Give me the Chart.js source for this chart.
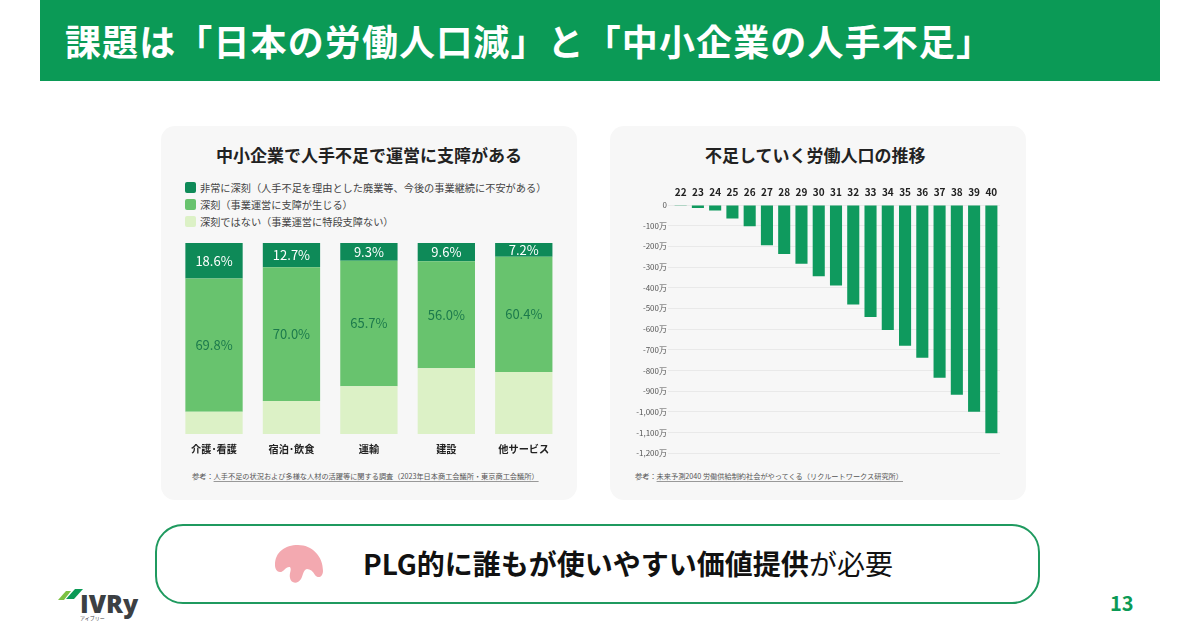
<!DOCTYPE html>
<html lang="ja">
<head>
<meta charset="utf-8">
<title>課題</title>
<script src="https://cdn.jsdelivr.net/npm/chart.js@4"></script>
<style>
    * { box-sizing: border-box; }
    html, body { margin: 0; padding: 0; background: #fff; }
    body { position: relative; width: 1200px; height: 630px; overflow: hidden; font-family: "Noto Sans CJK JP", "Noto Sans", sans-serif; color: #222; }
    .abs { position: absolute; white-space: nowrap; }
    #cabecera { left: 40px; top: 0; width: 1120px; height: 81px; background: #0b9a56; }
    #titulo { left: 65px; top: 14px; font-size: 36px; line-height: 52px; font-weight: 700; color: #fff; letter-spacing: 1.12px; }
    .tarjeta { top: 126px; width: 416px; height: 374px; background: #f7f7f7; border-radius: 14px; }
    .subtitulo { top: 143px; font-size: 17px; line-height: 24px; font-weight: 700; color: #222; }
    #leyenda { left: 185px; top: 179px; font-size: 10.2px; line-height: 17px; color: #444; }
    #leyenda div { display: flex; align-items: center; }
    #leyenda i { display: block; width: 11px; height: 11px; border-radius: 2px; margin-right: 4px; }
    .nota { top: 469px; font-size: 7.2px; line-height: 14px; color: #555; }
    .nota u { text-decoration-color: #999; text-underline-offset: 2px; }
    canvas { position: absolute; }
    #caja { left: 155px; top: 524px; width: 885px; height: 80px; background: #fff; border: 2.5px solid #1f9a5f; border-radius: 28px; }
    #mensaje { left: 363px; top: 544px; font-size: 28px; line-height: 38px; font-weight: 700; color: #111; }
    #mensaje span { font-weight: 400; }
    #pagina { left: 1110px; top: 590px; font-size: 20px; line-height: 26px; font-weight: 700; color: #0b9a56; }
    #marca { left: 80px; top: 587px; font-family: "Open Sans", sans-serif; font-size: 25px; line-height: 32px; font-weight: 800; color: #3c4043; }
    #marcaKana { left: 80px; top: 614px; font-size: 5px; line-height: 7px; color: #444; }
</style>
</head>
<body>
<div class="abs" id="cabecera"></div>
<div class="abs" id="titulo">課題は「日本の労働人口減」と「中小企業の人手不足」</div>

<div class="abs tarjeta" style="left:161px"></div>
<div class="abs tarjeta" style="left:610px"></div>

<div class="abs subtitulo" style="left:216px">中小企業で人手不足で運営に支障がある</div>
<div class="abs subtitulo" style="left:705px">不足していく労働人口の推移</div>

<div class="abs" id="leyenda"></div>
<canvas id="graficoApilado" style="left:161px;top:236px" width="416" height="226"></canvas>
<canvas id="graficoNegativo" style="left:610px;top:180px" width="416" height="282"></canvas>

<div class="abs nota" style="left:192px">参考：<u>人手不足の状況および多様な人材の活躍等に関する調査（2023年日本商工会議所・東京商工会議所）</u></div>
<div class="abs nota" style="left:635px">参考：<u>未来予測2040 労働供給制約社会がやってくる（リクルートワークス研究所）</u></div>

<div class="abs" id="caja"></div>
<svg class="abs" style="left:270px;top:540px" width="60" height="50" viewBox="0 0 60 50">
    <path fill="#f3a9b0" d="M5 25C5 12 15 5 28 5C42 5 53 16 53 31C53 37 48 39 45 35C43 31 40 29 37 29C33 30 33 36 31 39C28 44 21 44 20 38C19 33 22 30 20 27C16 26 14 32 10 32C7 32 5 29 5 25Z"/>
</svg>
<div class="abs" id="mensaje">PLG的に誰もが使いやすい価値提供<span>が必要</span></div>

<svg class="abs" style="left:55px;top:586px" width="30" height="16" viewBox="0 0 30 16">
    <polygon fill="#7cc142" points="3,14 11,5 16,5 9,14"/>
    <polygon fill="#0b9a56" points="11,14 20,4 28,4 19,14" transform="translate(0,-1)"/>
</svg>
<div class="abs" id="marca">IVRy</div>
<div class="abs" id="marcaKana">アイブリー</div>
<div class="abs" id="pagina">13</div>

<script>
// Datos del gráfico apilado (porcentajes)
const sectores = ['介護･看護', '宿泊･飲食', '運輸', '建設', '他サービス'];
const muySerio = [18.6, 12.7, 9.3, 9.6, 7.2];
const serio = [69.8, 70.0, 65.7, 56.0, 60.4];
const noSerio = [11.6, 17.3, 25.0, 34.4, 32.4];
const nombresSerie = [
    '非常に深刻（人手不足を理由とした廃業等、今後の事業継続に不安がある）',
    '深刻（事業運営に支障が生じる）',
    '深刻ではない（事業運営に特段支障ない）'
];

// Datos del gráfico de barras negativas (万人)
const anios = ['22', '23', '24', '25', '26', '27', '28', '29', '30', '31', '32', '33', '34', '35', '36', '37', '38', '39', '40'];
const faltaTrabajo = [-4, -15, -27, -65, -103, -195, -237, -284, -344, -389, -481, -541, -604, -680, -738, -835, -917, -1000, -1103];

const FUENTE = '"Noto Sans CJK JP", "Noto Sans", sans-serif';
const coloresSerie = ['#0e8a58', '#68c36e', '#dcf1c6'];

// Leyenda en HTML
const leyenda = document.getElementById('leyenda');
nombresSerie.forEach((nombre, i) => {
    const fila = document.createElement('div');
    const cuadro = document.createElement('i');
    cuadro.style.background = coloresSerie[i];
    fila.appendChild(cuadro);
    fila.appendChild(document.createTextNode(nombre));
    leyenda.appendChild(fila);
});

// Escribe el porcentaje en el centro de cada tramo
const etiquetasTramos = {
    id: 'etiquetasTramos',
    afterDatasetsDraw(chart) {
        const ctx = chart.ctx;
        ctx.save();
        ctx.font = '13px ' + FUENTE;
        ctx.textAlign = 'center';
        ctx.textBaseline = 'middle';
        chart.data.datasets.forEach((ds, i) => {
            if (!ds.colorEtiqueta) return;
            chart.getDatasetMeta(i).data.forEach((barra, j) => {
                ctx.fillStyle = ds.colorEtiqueta;
                ctx.fillText(ds.data[j].toFixed(1) + '%', barra.x, (barra.y + barra.base) / 2);
            });
        });
        ctx.restore();
    }
};

new Chart(document.getElementById('graficoApilado'), {
    type: 'bar',
    data: {
        labels: sectores,
        datasets: [
            { label: nombresSerie[2], data: noSerio, backgroundColor: coloresSerie[2] },
            { label: nombresSerie[1], data: serio, backgroundColor: coloresSerie[1], colorEtiqueta: '#1c7a4c' },
            { label: nombresSerie[0], data: muySerio, backgroundColor: coloresSerie[0], colorEtiqueta: '#ffffff' }
        ]
    },
    options: {
        responsive: false,
        animation: false,
        layout: { padding: { left: 14.3, right: 14.5, top: 7, bottom: 0 } },
        plugins: { legend: { display: false }, tooltip: { enabled: false } },
        datasets: { bar: { barPercentage: 0.74, categoryPercentage: 1 } },
        scales: {
            x: {
                stacked: true,
                border: { display: false },
                grid: { display: false, drawTicks: false },
                ticks: { color: '#222', font: { family: FUENTE, size: 10.2, weight: '700' }, padding: 9, maxRotation: 0, autoSkip: false },
                afterFit(escala) { escala.height = 28; }
            },
            y: { stacked: true, display: false, min: 0, max: 100 }
        }
    },
    plugins: [etiquetasTramos]
});

new Chart(document.getElementById('graficoNegativo'), {
    type: 'bar',
    data: {
        labels: anios,
        datasets: [{ label: '不足していく労働人口', data: faltaTrabajo, backgroundColor: '#0f9a5e', barPercentage: 0.7, categoryPercentage: 1 }]
    },
    options: {
        responsive: false,
        animation: false,
        layout: { padding: { left: 0, right: 26, top: 0, bottom: 8.8 } },
        plugins: { legend: { display: false }, tooltip: { enabled: false } },
        scales: {
            x: {
                position: 'top',
                border: { display: false },
                grid: { display: false, drawTicks: false },
                ticks: { color: '#222', font: { family: FUENTE, size: 10, weight: '700' }, padding: 7, maxRotation: 0, autoSkip: false },
                afterFit(escala) { escala.height = 25; }
            },
            y: {
                min: -1200,
                max: 0,
                border: { display: false },
                grid: { color: '#e9e9e9', lineWidth: 1, tickLength: 4, tickColor: '#e9e9e9' },
                ticks: {
                    stepSize: 100,
                    color: '#555',
                    padding: 1,
                    font: { family: FUENTE, size: 8 },
                    callback(valor) { return valor === 0 ? '0' : valor.toLocaleString('en-US') + '万'; }
                },
                afterFit(escala) { escala.width = 62; }
            }
        }
    }
});
</script>
</body>
</html>
